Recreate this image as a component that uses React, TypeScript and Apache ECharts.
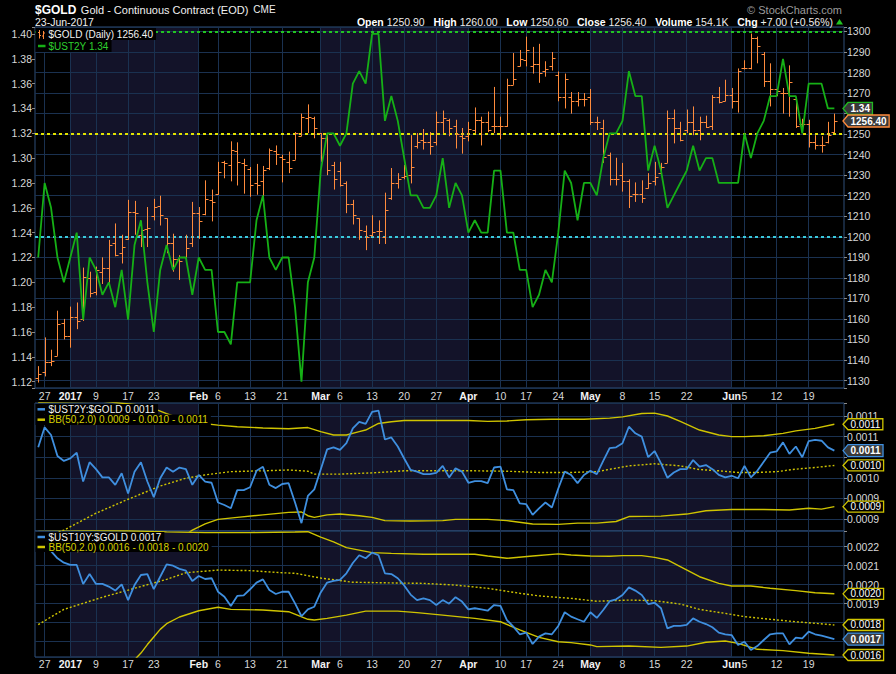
import React, { useEffect, useRef } from 'react';
import * as echarts from 'echarts';

// ---------- categories (trading days) ----------
const monthDays: [string, number[]][] = [
  ['2016-12', [23, 27, 28, 29, 30]],
  ['2017-01', [3, 4, 5, 6, 9, 10, 11, 12, 13, 17, 18, 19, 20, 23, 24, 25, 26, 27, 30, 31]],
  ['2017-02', [1, 2, 3, 6, 7, 8, 9, 10, 13, 14, 15, 16, 17, 21, 22, 23, 24, 27, 28]],
  ['2017-03', [1, 2, 3, 6, 7, 8, 9, 10, 13, 14, 15, 16, 17, 20, 21, 22, 23, 24, 27, 28, 29, 30, 31]],
  ['2017-04', [3, 4, 5, 6, 7, 10, 11, 12, 13, 17, 18, 19, 20, 21, 24, 25, 26, 27, 28]],
  ['2017-05', [1, 2, 3, 4, 5, 8, 9, 10, 11, 12, 15, 16, 17, 18, 19, 22, 23, 24, 25, 26, 30, 31]],
  ['2017-06', [1, 2, 5, 6, 7, 8, 9, 12, 13, 14, 15, 16, 19, 20, 21, 22, 23]],
];
const dates: string[] = monthDays.flatMap(([m, ds]) => ds.map((d) => `${m}-${String(d).padStart(2, '0')}`));
const categories: string[] = [...dates, ''];

// tick labels: [date, text, bold]
const xTicks: [string, string, boolean][] = [
  ['2016-12-27', '27', false], ['2017-01-03', '2017', true], ['2017-01-09', '9', false], ['2017-01-17', '17', false],
  ['2017-01-23', '23', false], ['2017-02-01', 'Feb', true], ['2017-02-06', '6', false], ['2017-02-13', '13', false],
  ['2017-02-21', '21', false], ['2017-03-01', 'Mar', true], ['2017-03-06', '6', false], ['2017-03-13', '13', false],
  ['2017-03-20', '20', false], ['2017-03-27', '27', false], ['2017-04-03', 'Apr', true], ['2017-04-10', '10', false],
  ['2017-04-17', '17', false], ['2017-04-24', '24', false], ['2017-05-01', 'May', true], ['2017-05-08', '8', false],
  ['2017-05-15', '15', false], ['2017-05-22', '22', false], ['2017-06-01', 'Jun', true], ['2017-06-05', '5', false],
  ['2017-06-12', '12', false], ['2017-06-19', '19', false],
];
const shadedMonths: [string, string][] = [
  ['2017-01-03', '2017-02-01'], ['2017-03-01', '2017-04-03'], ['2017-05-01', '2017-06-01'],
];

// ---------- $GOLD OHLC ----------
const goldOpen = [
  1131, 1134, 1139, 1142, 1158, 1151.5, 1161, 1160, 1180, 1173,
  1183, 1185, 1197, 1192, 1199, 1212, 1201, 1204, 1210, 1215,
  1209, 1197, 1189, 1190, 1197, 1211.5, 1211, 1218, 1221, 1236.5,
  1235, 1242, 1236, 1233, 1226, 1227, 1233.5, 1242, 1239, 1236.5,
  1237.5, 1249, 1258, 1258, 1250.5, 1248, 1235, 1232, 1226, 1216,
  1209, 1203, 1201, 1203, 1200, 1219, 1226, 1229, 1230, 1244,
  1247, 1246, 1246, 1256, 1257, 1254, 1249, 1249, 1252, 1257,
  1256, 1254, 1254, 1254, 1274, 1283, 1286, 1283, 1284, 1281,
  1283, 1279, 1268, 1268, 1266, 1267, 1268, 1256, 1253, 1240,
  1228, 1230, 1227, 1221, 1221, 1224, 1227, 1231, 1236, 1258,
  1253, 1252, 1256, 1252, 1256, 1254, 1268, 1266, 1269, 1266,
  1282, 1282, 1297, 1289, 1276, 1272, 1270, 1270, 1267, 1255,
  1255, 1246, 1244.5, 1246, 1250.9,
];
const goldHigh = [
  1137, 1151, 1145, 1164, 1160, 1166, 1168, 1185, 1183, 1185.5,
  1190, 1198.5, 1206.5, 1201, 1218, 1217.5, 1207.5, 1214.5, 1218.5, 1220,
  1209, 1201.5, 1191, 1201, 1217, 1214.5, 1227.5, 1223, 1236.5, 1237,
  1246.5, 1246, 1238, 1234, 1235.5, 1234.5, 1243, 1244.5, 1240, 1241.5,
  1251, 1260, 1264.5, 1258.5, 1250.5, 1250.5, 1236.5, 1236.5, 1227, 1218,
  1209, 1205.5, 1210.5, 1208, 1221.5, 1233.5, 1231, 1235, 1249.5, 1250.5,
  1252.5, 1251, 1261, 1261.5, 1257.5, 1257, 1253, 1256, 1263, 1258.5,
  1261, 1273, 1258.5, 1277, 1289.5, 1291, 1297.5, 1292.5, 1294, 1285.5,
  1290, 1280.5, 1279.5, 1270.5, 1270.5, 1270, 1272, 1258.5, 1257, 1241,
  1238.5, 1236, 1228, 1226.5, 1227.5, 1231, 1236.5, 1236, 1261.5, 1262,
  1256, 1262, 1263.5, 1258.5, 1259, 1269, 1273, 1276.5, 1272.5, 1282,
  1286, 1299, 1297.5, 1290, 1284.5, 1272.5, 1272.5, 1283.5, 1268, 1257.5,
  1257, 1249.5, 1249, 1256, 1260,
];
const goldLow = [
  1129, 1132, 1137, 1142, 1150, 1146, 1155, 1159, 1170.5, 1171.5,
  1177, 1176.5, 1190.5, 1187, 1198.5, 1201, 1195, 1195, 1208, 1205.5,
  1192, 1183, 1179, 1189.5, 1195, 1199, 1210.5, 1207.5, 1220.5, 1228.5,
  1227, 1225, 1221, 1219.5, 1220.5, 1217, 1232.5, 1235, 1226.5, 1231,
  1237.5, 1249, 1250.5, 1248, 1236.5, 1230, 1223, 1224.5, 1211.5, 1206,
  1198.5, 1193.5, 1200, 1196.5, 1196.5, 1218, 1223.5, 1228, 1226, 1243,
  1242.5, 1240, 1244.5, 1250.5, 1249, 1243, 1240.5, 1246.5, 1250.5, 1244.5,
  1251, 1250.5, 1247.5, 1253.5, 1274, 1283, 1283, 1279.5, 1275, 1278,
  1281, 1266, 1262.5, 1260, 1263.5, 1263.5, 1254.5, 1252, 1236, 1225,
  1225, 1222, 1214, 1217, 1216.5, 1223.5, 1225, 1230, 1236, 1245.5,
  1246.5, 1250.5, 1249.5, 1247, 1253, 1252, 1265, 1266, 1262.5, 1260.5,
  1281.5, 1281.5, 1284.5, 1273, 1263.5, 1268.5, 1260, 1258.5, 1253, 1250.5,
  1243.5, 1242.5, 1241, 1245.5, 1250.6,
];
const goldClose = [
  1133, 1139, 1139.5, 1157.5, 1151.5, 1161, 1159, 1180.5, 1172.5, 1184,
  1185, 1196, 1191, 1195, 1212, 1211.5, 1203.5, 1204.5, 1214.5, 1210.5,
  1197, 1189, 1188, 1194.5, 1211.5, 1207.5, 1218.5, 1217, 1231.5, 1236,
  1242.5, 1236.5, 1235, 1225, 1225, 1232.5, 1242.5, 1240.5, 1238, 1233.5,
  1250.5, 1258.5, 1258.5, 1253, 1248, 1232.5, 1228, 1225, 1216, 1210.5,
  1203.5, 1200, 1202.5, 1203, 1213, 1226, 1228, 1229.5, 1234, 1246,
  1246, 1244, 1256, 1258, 1253, 1250, 1248, 1252.5, 1257, 1256,
  1252, 1254, 1254, 1274, 1277, 1286.5, 1291, 1284, 1280, 1281.5,
  1287, 1268, 1277, 1266, 1267, 1267, 1256, 1256, 1239, 1228,
  1228, 1227, 1220, 1221, 1219, 1226, 1229, 1234, 1258, 1253,
  1247, 1256, 1252, 1256, 1253.5, 1268, 1265.5, 1269, 1266, 1281,
  1282, 1297, 1293, 1276, 1272, 1271, 1270, 1275.5, 1254, 1255,
  1246, 1244.5, 1244.5, 1249.4, 1256.4,
];

// ---------- $UST2Y ----------
const ust2y = [
  1.22, 1.28, 1.26, 1.22, 1.20, 1.22, 1.24, 1.17, 1.22, 1.21,
  1.19, 1.20, 1.18, 1.21, 1.17, 1.23, 1.25, 1.20, 1.16, 1.21,
  1.23, 1.21, 1.22, 1.22, 1.19, 1.22, 1.21, 1.21, 1.16, 1.16,
  1.15, 1.20, 1.20, 1.20, 1.25, 1.27, 1.22, 1.21, 1.22, 1.22,
  1.18, 1.12, 1.20, 1.22, 1.29, 1.32, 1.32, 1.31, 1.32, 1.36,
  1.37, 1.36, 1.40, 1.40, 1.33, 1.35, 1.33, 1.30, 1.27, 1.27,
  1.26, 1.26, 1.27, 1.30, 1.26, 1.28, 1.27, 1.24, 1.25, 1.24,
  1.24, 1.29, 1.29, 1.24, 1.24, 1.21, 1.21, 1.18, 1.19, 1.21,
  1.20, 1.24, 1.29, 1.28, 1.25, 1.28, 1.28, 1.27, 1.30, 1.32,
  1.32, 1.33, 1.37, 1.35, 1.35, 1.29, 1.31, 1.29, 1.26, 1.27,
  1.28, 1.29, 1.31, 1.29, 1.30, 1.30, 1.28, 1.28, 1.28, 1.28,
  1.32, 1.30, 1.32, 1.33, 1.35, 1.35, 1.38, 1.35, 1.35, 1.32,
  1.36, 1.36, 1.36, 1.34, 1.34,
];

// ---------- $UST2Y:$GOLD ----------
const ratio2 = [
  0.001074, 0.0011225, 0.001104, 0.001053, 0.001041, 0.001047, 0.001061, 0.000991, 0.001038, 0.001021,
  0.001001, 0.001001, 0.000983, 0.001011, 0.000962, 0.001015, 0.001038, 0.000991, 0.000953, 0.000999,
  0.001025, 0.001015, 0.001025, 0.001021, 0.000983, 0.001007, 0.000991, 0.000988, 0.00094, 0.000934,
  0.000926, 0.00097, 0.00097, 0.000977, 0.001017, 0.001027, 0.000983, 0.000975, 0.000985, 0.000987,
  0.00094, 0.00089, 0.000956, 0.000972, 0.00102, 0.001069, 0.001074, 0.001068, 0.001084, 0.00112,
  0.001136, 0.001131, 0.00116, 0.001163, 0.001093, 0.001098, 0.001076, 0.001047, 0.001019, 0.001015,
  0.001009, 0.001009, 0.001012, 0.001029, 0.001001, 0.001023, 0.001015, 0.000988, 0.000992, 0.000992,
  0.000987, 0.001025, 0.001027, 0.000972, 0.00097, 0.000938, 0.000936, 0.00091, 0.000926, 0.00094,
  0.000928, 0.000974, 0.001015, 0.001007, 0.000987, 0.001007, 0.001017, 0.001009, 0.001041, 0.001072,
  0.001074, 0.001084, 0.001124, 0.001108, 0.0011, 0.00105, 0.001065, 0.001035, 0.001, 0.001013,
  0.001021, 0.001021, 0.001043, 0.001027, 0.001031, 0.001021, 0.001007, 0.001001, 0.001005, 0.000999,
  0.001029, 0.001001, 0.001017, 0.001039, 0.001061, 0.001064, 0.001086, 0.001058, 0.001076, 0.00105,
  0.001089, 0.001092, 0.00109, 0.001074, 0.001066,
];
const bb2Upper: [number, number][] = [
  [0, 0.001183], [10, 0.001186], [16, 0.001176], [18, 0.001168], [20, 0.001156], [22, 0.001145], [25, 0.001133],
  [28, 0.001128], [31, 0.001124], [35, 0.001121], [39, 0.001119], [42, 0.001122], [44, 0.001112], [46, 0.001104],
  [48, 0.001104], [50, 0.001112], [51, 0.001116], [53, 0.001132], [55, 0.001136], [57, 0.001139], [62, 0.001139],
  [67, 0.001139], [70, 0.001137], [73, 0.001138], [76, 0.001141], [80, 0.001142], [85, 0.001142], [89, 0.001145],
  [91, 0.001148], [94, 0.001156], [96, 0.001157], [98, 0.00115], [100, 0.001137], [103, 0.001116], [106, 0.001104],
  [108, 0.0011], [110, 0.0011], [113, 0.001102], [116, 0.001108], [118, 0.001114], [121, 0.00112], [124, 0.00113],
];
const bb2Mid: [number, number][] = [
  [2, 0.000862], [4, 0.000873], [9, 0.000914], [14, 0.000948], [19, 0.00098], [23, 0.000999], [26, 0.001007],
  [30, 0.001015], [35, 0.001017], [39, 0.001019], [42, 0.001016], [43, 0.001009], [47, 0.001009], [52, 0.001012],
  [57, 0.001017], [62, 0.001017], [68, 0.001017], [73, 0.001016], [78, 0.001013], [83, 0.001013], [87, 0.001015],
  [92, 0.001029], [96, 0.001034], [100, 0.001029], [103, 0.00102], [106, 0.001017], [109, 0.001013], [112, 0.001013],
  [115, 0.001015], [118, 0.001021], [121, 0.001025], [124, 0.00103],
];
const bb2Lower: [number, number][] = [
  [23, 0.000862], [24, 0.000873], [26, 0.000888], [28, 0.000899], [31, 0.000904], [35, 0.00091], [39, 0.000916],
  [41, 0.000917], [42, 0.000908], [43, 0.000904], [45, 0.00091], [47, 0.000912], [50, 0.000908], [52, 0.000904],
  [54, 0.000896], [58, 0.000895], [63, 0.000896], [65, 0.000899], [70, 0.000899], [73, 0.000896], [77, 0.000888],
  [81, 0.000887], [84, 0.00089], [87, 0.00089], [90, 0.000894], [92, 0.000906], [97, 0.000907], [101, 0.000912],
  [104, 0.00092], [108, 0.000923], [113, 0.000923], [117, 0.000922], [120, 0.000926], [122, 0.000924], [124, 0.00093],
];

// ---------- $UST10Y:$GOLD ----------
const ratio3 = [
  0.00221, 0.0022, 0.002177, 0.002139, 0.002116, 0.002104, 0.002104, 0.002004, 0.002056, 0.002004,
  0.002004, 0.00199, 0.001969, 0.002002, 0.001919, 0.001998, 0.002051, 0.002056, 0.001977, 0.002042,
  0.002107, 0.0021, 0.002083, 0.002074, 0.002019, 0.002046, 0.00203, 0.002034, 0.001963, 0.001937,
  0.001888, 0.001941, 0.001944, 0.001976, 0.002011, 0.002028, 0.001972, 0.001951, 0.001963, 0.001963,
  0.001902, 0.001834, 0.00187, 0.001884, 0.001959, 0.002011, 0.00202, 0.002025, 0.00206, 0.002114,
  0.002155, 0.002139, 0.002169, 0.002155, 0.00206, 0.002056, 0.002034, 0.001996, 0.001948, 0.001919,
  0.001928, 0.001919, 0.001893, 0.001919, 0.0019, 0.001934, 0.001911, 0.00187, 0.001876, 0.00187,
  0.001863, 0.001893, 0.001888, 0.001814, 0.001779, 0.001739, 0.001748, 0.001688, 0.001727, 0.001744,
  0.001739, 0.001783, 0.001855, 0.001832, 0.001818, 0.001805, 0.001855, 0.001825, 0.001867, 0.001913,
  0.001923, 0.001946, 0.001986, 0.001969, 0.001946, 0.001898, 0.001905, 0.001876, 0.00177, 0.001783,
  0.001783, 0.001788, 0.001823, 0.001805, 0.001793, 0.001776, 0.001748, 0.001739, 0.001735, 0.001683,
  0.0017, 0.001656, 0.001677, 0.001709, 0.001739, 0.001744, 0.001744, 0.001686, 0.001721, 0.001718,
  0.001753, 0.001739, 0.001732, 0.001723, 0.001714,
];
const bb3Upper: [number, number][] = [
  [0, 0.00229], [14, 0.002284], [20, 0.002278], [26, 0.002274], [33, 0.002274], [40, 0.002277], [42, 0.002279],
  [44, 0.00225], [46, 0.002225], [48, 0.002195], [50, 0.002182], [52, 0.002169], [55, 0.002165], [60, 0.00216],
  [68, 0.00216], [70, 0.002151], [73, 0.002139], [77, 0.002151], [81, 0.002162], [83, 0.002156], [86, 0.002151],
  [89, 0.00215], [91, 0.002153], [94, 0.002153], [96, 0.002144], [98, 0.00213], [100, 0.002095], [103, 0.002042],
  [106, 0.002007], [108, 0.001993], [111, 0.001993], [114, 0.001981], [118, 0.001969], [121, 0.001958], [124, 0.001952],
];
const bb3Mid: [number, number][] = [
  [0, 0.00179], [4, 0.00187], [10, 0.001934], [15, 0.001981], [20, 0.002028], [23, 0.002063], [28, 0.002077],
  [33, 0.002074], [38, 0.002063], [40, 0.00206], [44, 0.002035], [49, 0.002013], [54, 0.00201], [60, 0.002007],
  [65, 0.001998], [70, 0.001981], [75, 0.001955], [78, 0.001941], [83, 0.001928], [87, 0.001913], [92, 0.001919],
  [96, 0.001916], [100, 0.001898], [103, 0.00187], [107, 0.001849], [110, 0.001832], [114, 0.001818], [118, 0.001805],
  [121, 0.001797], [124, 0.001788],
];
const bb3Lower: [number, number][] = [
  [15, 0.001605], [16, 0.00164], [17, 0.001685], [18, 0.001725], [19, 0.001765], [20, 0.001795], [22, 0.00183],
  [25, 0.001863], [28, 0.001881], [30, 0.00187], [35, 0.001867], [39, 0.001858], [42, 0.001818], [43, 0.001814],
  [45, 0.001823], [48, 0.00184], [51, 0.001861], [56, 0.001861], [59, 0.001853], [63, 0.00184], [68, 0.001823],
  [72, 0.001805], [75, 0.001762], [78, 0.001723], [81, 0.0017], [83, 0.001695], [86, 0.001683], [87, 0.001674],
  [92, 0.001677], [97, 0.00167], [101, 0.001677], [104, 0.001697], [107, 0.001704], [109, 0.001691], [112, 0.00166],
  [116, 0.001653], [120, 0.001639], [124, 0.00163],
];

// horizontal level lines on the price panel
const levelLines = [1300, 1250, 1200];
const levelColors = ['#22c422', '#e2e200', '#3ac8da'];

// header values
const headerStats: [string, string][] = [
  ['Open', '1250.90'], ['High', '1260.00'], ['Low', '1250.60'], ['Close', '1256.40'], ['Volume', '154.1K'], ['Chg', '+7.00 (+0.56%)'],
];

// ---------- styling / layout ----------
const FONT = "'Liberation Sans', Arial, sans-serif";
const GRID_LINE = '#1a3150';
const FRAME = '#2f4f78';
const SHADE = '#131329';
const AXIS_TXT = '#d8d8d8';
const ORANGE = '#ff8b3c';
const GREEN = '#16b016';
const BLUE = '#3f8fdf';
const YELLOW = '#cfc400';

// value-axis specs: grid top/height and extent
const AX = [
  { grid: 0, top: 27, h: 361, min: 1.1149, max: 1.4056, step: 0.02 },
  { grid: 0, top: 27, h: 361, min: 1126.35, max: 1302.19, step: 10 },
  { grid: 1, top: 403, h: 128, min: 0.0008709, max: 0.0011816, step: 0.00005 },
  { grid: 2, top: 531, h: 126, min: 0.0016195, max: 0.0022826, step: 0.0001 },
];
const axPix = (k: number, v: number) => AX[k].top + ((AX[k].max - v) / (AX[k].max - AX[k].min)) * AX[k].h;

const fmt4 = (v: number) => (Math.round(v * 1e4 - 1e-6) / 1e4).toFixed(4);
const last = (a: any[]) => a[a.length - 1];

// pixel rows of the value boxes per panel (used to keep axis labels clear of them)
function boxRows(): number[][] {
  return [
    [],
    [axPix(0, last(ust2y)), axPix(1, last(goldClose))],
    [axPix(2, last(bb2Upper)[1]), axPix(2, last(bb2Mid)[1]), axPix(2, last(bb2Lower)[1]), axPix(2, last(ratio2))],
    [axPix(3, last(bb3Upper)[1]), axPix(3, last(bb3Mid)[1]), axPix(3, last(bb3Lower)[1]), axPix(3, last(ratio3))],
  ];
}

const tickMap = new Map(xTicks.map((t) => [t[0], t]));

function xAxis(gridIndex: number, showLabels: boolean, margin: number) {
  return {
    type: 'category', gridIndex, data: categories, boundaryGap: true,
    axisLine: { show: false }, axisTick: { show: false }, splitLine: { show: false },
    axisLabel: showLabels ? {
      show: true, hideOverlap: false, margin,
      interval: (_i: number, val: string) => tickMap.has(val),
      formatter: (val: string) => { const t = tickMap.get(val); return t ? (t[2] ? `{b|${t[1]}}` : t[1]) : ''; },
      color: AXIS_TXT, fontSize: 10.5, fontFamily: FONT,
      rich: { b: { fontWeight: 'bold', color: '#f2f2f2', fontSize: 10.5, fontFamily: FONT } },
    } : { show: false },
  };
}

function yAxis(k: number, position: string, f: (v: number) => string, split: boolean, boxes: number[]) {
  const a = AX[k];
  return {
    type: 'value', gridIndex: a.grid, position, min: a.min, max: a.max, minInterval: a.step, maxInterval: a.step, splitNumber: 10,
    axisLine: { show: false },
    axisTick: { show: true, length: 3, lineStyle: { color: '#8a8a8a' } },
    splitLine: { show: split, lineStyle: { color: GRID_LINE, width: 1 } },
    axisLabel: {
      color: AXIS_TXT, fontSize: 10.5, fontFamily: FONT, margin: 3,
      formatter: (v: number) => {
        if (Math.abs(v / a.step - Math.round(v / a.step)) > 1e-4) return '';
        const p = axPix(k, v);
        if (boxes.some((b) => Math.abs(b - p) < 7.5)) return '';
        return f(v);
      },
    },
  };
}

const shadeArea = {
  silent: true, z: -1, itemStyle: { color: SHADE },
  data: shadedMonths.map(([a, b]) => [{ xAxis: a }, { xAxis: b }]),
};
const vGrid = {
  silent: true, z: 0, symbol: ['none', 'none'], label: { show: false },
  lineStyle: { color: GRID_LINE, type: 'solid', width: 1 },
  data: xTicks.map((t) => ({ xAxis: t[0] })),
};

function bbLine(xi: number, yi: number, data: [number, number][], dotted: boolean) {
  return {
    type: 'line', xAxisIndex: xi, yAxisIndex: yi, data, symbol: 'none', silent: true, z: 2,
    lineStyle: { color: YELLOW, width: 1.4, type: dotted ? [2, 2] : 'solid' },
  };
}

function buildOption() {
  const rows = boxRows();
  const gridBase = { left: 35, right: 52, show: true, borderColor: FRAME, borderWidth: 1, backgroundColor: 'transparent', containLabel: false, outerBoundsMode: 'none' };
  return {
    animation: false,
    backgroundColor: '#000',
    grid: AX.slice(1).map((a) => ({ ...gridBase, top: a.top, height: a.h })),
    xAxis: [xAxis(0, true, 2), xAxis(1, false, 0), xAxis(2, true, 1.5)],
    yAxis: [
      yAxis(0, 'left', (v) => v.toFixed(2), false, rows[0]),
      yAxis(1, 'right', (v) => String(Math.round(v)), true, rows[1]),
      yAxis(2, 'right', fmt4, true, rows[2]),
      yAxis(3, 'right', fmt4, true, rows[3]),
    ],
    series: [
      {
        type: 'custom', name: '$GOLD', xAxisIndex: 0, yAxisIndex: 1, z: 3, silent: true,
        data: dates.map((_d, i) => [i, goldOpen[i], goldHigh[i], goldLow[i], goldClose[i]]),
        encode: { x: 0, y: [1, 2, 3, 4] },
        renderItem: (_p: any, api: any) => {
          const i = api.value(0);
          const o = api.coord([i, api.value(1)]);
          const h = api.coord([i, api.value(2)]);
          const l = api.coord([i, api.value(3)]);
          const c = api.coord([i, api.value(4)]);
          const x = Math.round(h[0]) + 0.5;
          const oy = Math.round(o[1]) + 0.5;
          const cy = Math.round(c[1]) + 0.5;
          const st = { stroke: ORANGE, lineWidth: 1 };
          return {
            type: 'group', children: [
              { type: 'line', shape: { x1: x, y1: h[1], x2: x, y2: l[1] }, style: st },
              { type: 'line', shape: { x1: x - 3, y1: oy, x2: x, y2: oy }, style: st },
              { type: 'line', shape: { x1: x, y1: cy, x2: x + 3, y2: cy }, style: st },
            ],
          };
        },
        markLine: {
          silent: true, z: 1, symbol: ['none', 'none'], label: { show: false },
          data: levelLines.map((v, k) => ({ yAxis: v, lineStyle: { color: levelColors[k], type: [3, 3], width: 2 } })),
        },
      },
      {
        type: 'line', name: '$UST2Y', xAxisIndex: 0, yAxisIndex: 0, data: ust2y, symbol: 'none', z: 4, silent: true,
        lineStyle: { color: GREEN, width: 1.8 },
        markArea: shadeArea, markLine: vGrid,
      },
      bbLine(1, 2, bb2Upper, false),
      bbLine(1, 2, bb2Mid, true),
      bbLine(1, 2, bb2Lower, false),
      {
        type: 'line', name: '$UST2Y:$GOLD', xAxisIndex: 1, yAxisIndex: 2, data: ratio2, symbol: 'none', z: 4, silent: true,
        lineStyle: { color: BLUE, width: 1.8 },
        markArea: shadeArea, markLine: vGrid,
      },
      bbLine(2, 3, bb3Upper, false),
      bbLine(2, 3, bb3Mid, true),
      bbLine(2, 3, bb3Lower, false),
      {
        type: 'line', name: '$UST10Y:$GOLD', xAxisIndex: 2, yAxisIndex: 3, data: ratio3, symbol: 'none', z: 4, silent: true,
        lineStyle: { color: BLUE, width: 1.8 },
        markArea: shadeArea, markLine: vGrid,
      },
    ],
  };
}

// ---------- graphic helpers ----------
let measureCtx: CanvasRenderingContext2D | null = null;
function textW(text: string, size: number, bold = false) {
  if (!measureCtx) measureCtx = document.createElement('canvas').getContext('2d');
  if (!measureCtx) return text.length * size * 0.55;
  measureCtx.font = `${bold ? 'bold ' : ''}${size}px ${FONT}`;
  return measureCtx.measureText(text).width;
}

function txt(x: number, y: number, text: string, o: any = {}) {
  return {
    type: 'text', x, y, z: 120, silent: true,
    style: {
      text, fill: o.fill || '#ececec', fontSize: o.size || 10, fontWeight: o.bold ? 'bold' : 'normal', fontFamily: FONT,
      align: o.align || 'left', verticalAlign: 'middle', rich: o.rich,
    },
  };
}
function rect(x: number, y: number, w: number, h: number, fill: string) {
  return { type: 'rect', z: 110, silent: true, shape: { x, y, width: w, height: h }, style: { fill } };
}
function seg(x1: number, y1: number, x2: number, y2: number, color: string, w: number) {
  return { type: 'line', z: 121, silent: true, shape: { x1, y1, x2, y2 }, style: { stroke: color, lineWidth: w } };
}

function legendRow(top: number, h: number, text: string, color: string, icon: any[]) {
  const w = 13 + textW(text, 10) + 3;
  return [rect(35.5, top, w, h, '#000'), ...icon, txt(48.5, top + h / 2, text, { fill: color })];
}

function valueBox(y: number, text: string, border: string, fill: string, bold: boolean, h: number) {
  const tip = 843, body = 848;
  const w = textW(text, 10, bold) + 5;
  return [
    {
      type: 'polygon', z: 130, silent: true,
      shape: { points: [[tip, y], [body, y - h / 2], [body + w, y - h / 2], [body + w, y + h / 2], [body, y + h / 2]] },
      style: { fill, stroke: border, lineWidth: 1.3 },
    },
    { ...txt(body + 2.5, y, text, { bold, fill: '#ffffff' }), z: 131 },
  ];
}

function buildGraphic(chart: any) {
  const py = (axis: number, v: number) => chart.convertToPixel({ yAxisIndex: axis }, v) as number;
  const els: any[] = [];

  // header
  const titleW = textW('$GOLD', 12, true);
  const subX = 35 + titleW + 4.5;
  const sub = 'Gold - Continuous Contract (EOD)';
  els.push(txt(35, 9.5, '$GOLD', { bold: true, size: 12, fill: '#ffffff' }));
  els.push(txt(subX, 9.5, sub, { size: 11, fill: '#f0f0f0' }));
  els.push(txt(subX + textW(sub, 11) + 5, 9.5, 'CME', { size: 10, fill: '#f0f0f0' }));
  els.push(txt(35, 22, '23-Jun-2017', { size: 10.5, fill: '#f0f0f0' }));
  els.push(txt(842, 9.5, '\u00a9 StockCharts.com', { size: 11, fill: '#9a9a9a', align: 'right' }));
  const statText = headerStats.map(([k, v]) => `{b|${k}} ${v}`).join('   ');
  els.push(txt(833, 22, statText, {
    size: 10.5, fill: '#ececec', align: 'right',
    rich: { b: { fontWeight: 'bold', fontSize: 10.5, fontFamily: FONT, fill: '#ffffff' } },
  }));
  els.push({ type: 'polygon', z: 120, silent: true, shape: { points: [[836, 24.5], [843, 24.5], [839.5, 19]] }, style: { fill: '#22c422' } });

  // panel 1 legend
  const ohlcIcon = [
    seg(39.5, 30, 39.5, 38.5, ORANGE, 1), seg(38, 32.5, 39.5, 32.5, ORANGE, 1), seg(39.5, 35.5, 41, 35.5, ORANGE, 1),
    seg(43.5, 31, 43.5, 39, ORANGE, 1), seg(42, 36, 43.5, 36, ORANGE, 1), seg(43.5, 33, 45, 33, ORANGE, 1),
  ];
  els.push(...legendRow(28, 12, `$GOLD (Daily) ${last(goldClose).toFixed(2)}`, '#f2f2f2', ohlcIcon));
  els.push(...legendRow(40, 12, `$UST2Y ${last(ust2y).toFixed(2)}`, '#2ed02e', [seg(38, 46, 45.5, 46, GREEN, 2.5)]));

  // panel 2 legend
  els.push(...legendRow(404, 10.5, `$UST2Y:$GOLD ${fmt4(last(ratio2))}`, '#f2f2f2', [seg(37.5, 409.3, 45, 409.3, BLUE, 2.5)]));
  els.push(...legendRow(414.5, 10.5, `BB(50,2.0) ${fmt4(last(bb2Lower)[1])} - ${fmt4(last(bb2Mid)[1])} - ${fmt4(last(bb2Upper)[1])}`, '#d8d000', [seg(37.5, 419.7, 45, 419.7, YELLOW, 2.5)]));

  // panel 3 legend
  els.push(...legendRow(532, 10, `$UST10Y:$GOLD ${fmt4(last(ratio3))}`, '#f2f2f2', [seg(37.5, 537, 45, 537, BLUE, 2.5)]));
  els.push(...legendRow(542, 10, `BB(50,2.0) ${fmt4(last(bb3Lower)[1])} - ${fmt4(last(bb3Mid)[1])} - ${fmt4(last(bb3Upper)[1])}`, '#d8d000', [seg(37.5, 547, 45, 547, YELLOW, 2.5)]));

  // right-axis value boxes
  els.push(...valueBox(py(0, last(ust2y)), last(ust2y).toFixed(2), '#22b822', '#383838', true, 12));
  els.push(...valueBox(py(1, last(goldClose)), last(goldClose).toFixed(2), ORANGE, '#383838', true, 12));

  els.push(...valueBox(py(2, last(bb2Upper)[1]), fmt4(last(bb2Upper)[1]), YELLOW, '#000', false, 11));
  els.push(...valueBox(py(2, last(bb2Mid)[1]), fmt4(last(bb2Mid)[1]), YELLOW, '#000', false, 11));
  els.push(...valueBox(py(2, last(bb2Lower)[1]), fmt4(last(bb2Lower)[1]), YELLOW, '#000', false, 11));
  els.push(...valueBox(py(2, last(ratio2)), fmt4(last(ratio2)), BLUE, '#383838', true, 12));

  els.push(...valueBox(py(3, last(bb3Upper)[1]), fmt4(last(bb3Upper)[1]), YELLOW, '#000', false, 11));
  els.push(...valueBox(py(3, last(bb3Mid)[1]), fmt4(last(bb3Mid)[1]), YELLOW, '#000', false, 11));
  els.push(...valueBox(py(3, last(bb3Lower)[1]), fmt4(last(bb3Lower)[1]), YELLOW, '#000', false, 11));
  els.push(...valueBox(py(3, last(ratio3)), fmt4(last(ratio3)), BLUE, '#383838', true, 12));

  return els;
}

export default function App() {
  const ref = useRef<HTMLDivElement>(null);
  useEffect(() => {
    const el = ref.current;
    if (!el) return;
    const chart = echarts.init(el, null, { renderer: 'svg' });
    chart.setOption(buildOption() as any);
    chart.setOption({ graphic: { elements: buildGraphic(chart) } } as any);
    return () => chart.dispose();
  }, []);
  return <div ref={ref} style={{ position: 'absolute', left: 0, top: 0, width: 896, height: 674, background: '#000' }} />;
}
